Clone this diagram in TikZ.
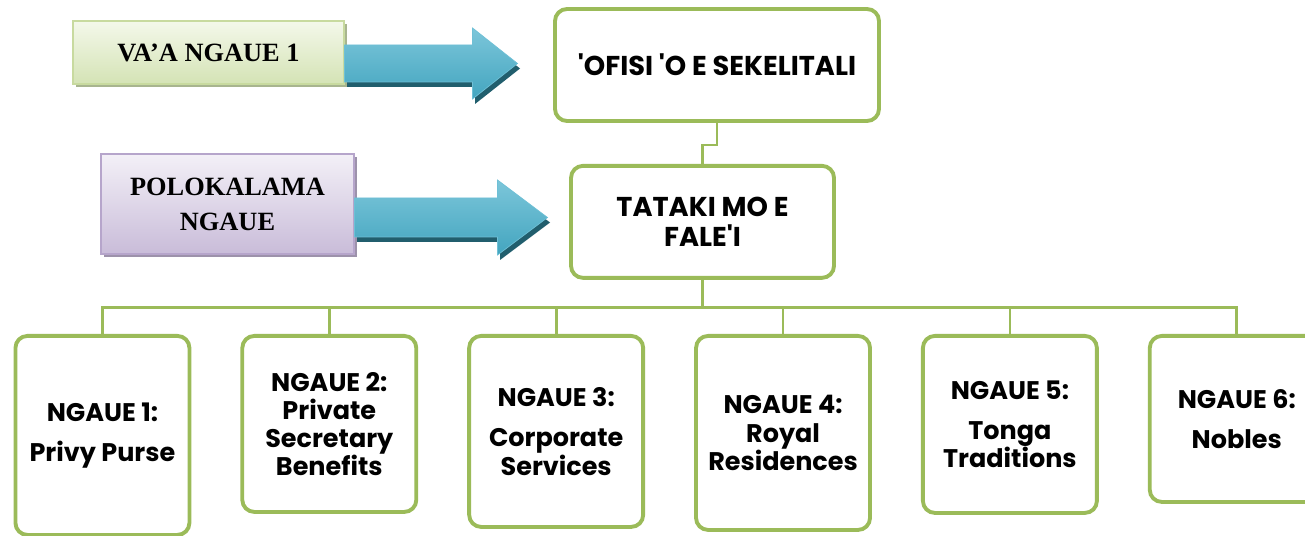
\documentclass[tikz,border=0pt]{standalone}
\usepackage{fontspec}
\setmainfont{Poppins}
\newfontfamily\capfont[Ligatures=TeX]{Liberation Serif}
\usepackage{tikz}
\usetikzlibrary{positioning, calc, shadows}

\definecolor{treegreen}{HTML}{9BBB59}
\definecolor{arrowlight}{HTML}{7CC6DA}
\definecolor{arrowmid}{HTML}{43A5BF}
\definecolor{arrowedge}{HTML}{6FC0D6}
\definecolor{arrowdark}{HTML}{215E6D}
\definecolor{vaatop}{HTML}{F4F8EA}
\definecolor{vaabottom}{HTML}{D4E3B5}
\definecolor{vaaedge}{HTML}{C8DA9F}
\definecolor{vaashadow}{HTML}{A8B58F}
\definecolor{polotop}{HTML}{F3F0F7}
\definecolor{polobottom}{HTML}{C9BCD9}
\definecolor{poloedge}{HTML}{B6A5CB}
\definecolor{poloshadow}{HTML}{9D92AB}

\tikzset{
    unitbox/.style={
        rectangle,
        draw=treegreen,
        line width=2.2pt,
        rounded corners=0.24cm,
        fill=white,
        align=center,
        minimum width=3.48cm,
        inner sep=2pt,
        font=\fontsize{14.5}{16}\selectfont\bfseries
    },
    headbox/.style={
        unitbox,
        minimum height=2.24cm,
        font=\fontsize{15.5}{17}\selectfont\bfseries
    },
    labelbox/.style={
        rectangle,
        line width=0.6pt,
        align=center,
        font=\capfont\bfseries\fontsize{15}{20}\selectfont
    },
    link/.style={
        draw=treegreen,
        line width=1.6pt
    },
    arrowbody/.style={
        top color=arrowlight,
        bottom color=arrowmid,
        draw=arrowedge,
        line width=0.4pt
    },
    arrowshade/.style={
        fill=arrowdark
    }
}

\begin{document}
\begin{tikzpicture}

\path[use as bounding box, clip] (0,0) rectangle (26.1,-10.72);

% Top of the tree
\node[headbox, minimum width=6.48cm] (ofisi) at (14.34,-1.30) {\textquotesingle OFISI \textquotesingle O E SEKELITALI};
\node[headbox, minimum width=5.26cm, below=0.82cm of ofisi, xshift=-0.29cm] (tataki) {TATAKI MO E\\FALE\textquotesingle I};

\draw[link] (ofisi.south) -- ++(0,-0.44) -| (tataki.north);

% Side labels
\node[labelbox, draw=vaaedge, top color=vaatop, bottom color=vaabottom,
      drop shadow={shadow xshift=0.06cm, shadow yshift=-0.06cm, fill=vaashadow, opacity=1},
      minimum width=5.42cm, minimum height=1.26cm] (vaa) at (4.17,-1.05) {VA’A NGAUE 1};
\node[labelbox, draw=poloedge, top color=polotop, bottom color=polobottom,
      drop shadow={shadow xshift=0.06cm, shadow yshift=-0.06cm, fill=poloshadow, opacity=1},
      minimum width=5.06cm, minimum height=2cm] (polo) at (4.55,-4.08) {POLOKALAMA\\NGAUE};

% Block arrows
\path[arrowshade] ([shift={(0.05,-0.32)}]vaa.east) ++(0,0.37) -- ++(2.56,0) -- ++(0,0.34) -- ++(0.9,-0.71) -- ++(-0.9,-0.71) -- ++(0,0.34) -- ++(-2.56,0) -- cycle;
\path[arrowbody] ([yshift=-0.22cm]vaa.east) ++(0,0.37) -- ++(2.56,0) -- ++(0,0.34) -- ++(0.9,-0.71) -- ++(-0.9,-0.71) -- ++(0,0.34) -- ++(-2.56,0) -- cycle;

\path[arrowshade] ([shift={(0.05,-0.37)}]polo.east) ++(0,0.39) -- ++(2.86,0) -- ++(0,0.36) -- ++(1.0,-0.75) -- ++(-1.0,-0.75) -- ++(0,0.36) -- ++(-2.86,0) -- cycle;
\path[arrowbody] ([yshift=-0.27cm]polo.east) ++(0,0.39) -- ++(2.86,0) -- ++(0,0.36) -- ++(1.0,-0.75) -- ++(-1.0,-0.75) -- ++(0,0.36) -- ++(-2.86,0) -- cycle;

% Work programmes
\node[unitbox, minimum height=3.98cm, anchor=north west] (k1) at (0.27,-6.68) {NGAUE 1:\\[7pt]Privy Purse};
\node[unitbox, minimum height=3.52cm, right=0.98cm of k1.north east, anchor=north west] (k2) {NGAUE 2:\\Private\\Secretary\\Benefits};
\node[unitbox, minimum height=3.82cm, right=0.98cm of k2.north east, anchor=north west] (k3) {NGAUE 3:\\[7pt]Corporate\\Services};
\node[unitbox, minimum height=3.88cm, right=0.98cm of k3.north east, anchor=north west] (k4) {NGAUE 4:\\Royal\\Residences};
\node[unitbox, minimum height=3.54cm, right=0.98cm of k4.north east, anchor=north west] (k5) {NGAUE 5:\\[7pt]Tonga\\Traditions};
\node[unitbox, minimum height=3.32cm, right=0.98cm of k5.north east, anchor=north west] (k6) {NGAUE 6:\\[7pt]Nobles};

\foreach \k in {k1,k2,k3,k4,k5,k6}
    \draw[link] (tataki.south) -- ++(0,-0.56) -| (\k.north);

\end{tikzpicture}
\end{document}
